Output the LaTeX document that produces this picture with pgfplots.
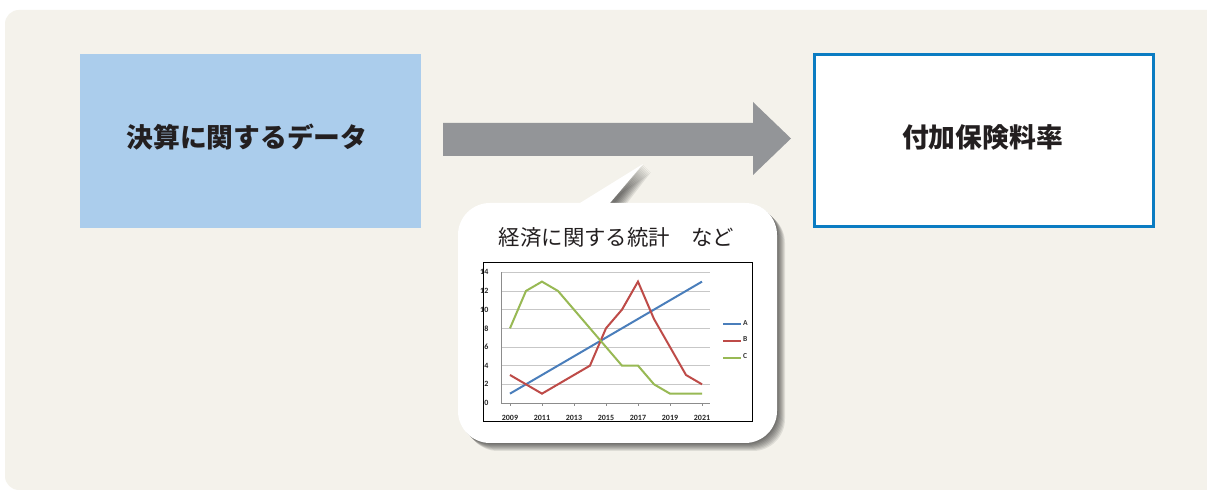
\documentclass[border=0pt]{standalone}
\usepackage{pgfplots}
\pgfplotsset{compat=1.18}
\usepackage{fontspec}
\setmainfont{Carlito}
\newfontfamily\cjk{Noto Sans CJK JP}

\definecolor{bgbeige}{HTML}{F4F2EB}
\definecolor{boxblue}{HTML}{ABCDEC}
\definecolor{lineblue}{HTML}{0A7CC2}
\definecolor{arrowgray}{HTML}{939598}
\definecolor{txt}{HTML}{231F20}
\definecolor{serA}{HTML}{4A7EBB}
\definecolor{serB}{HTML}{BE4B48}
\definecolor{serC}{HTML}{98B954}

\pgfplotstableread{
year A B C
2009 1 3 8
2010 2 2 12
2011 3 1 13
2012 4 2 12
2013 5 3 10
2014 6 4 8
2015 7 8 6
2016 8 10 4
2017 9 13 4
2018 10 9 2
2019 11 6 1
2020 12 3 1
2021 13 2 1
}\statdata

\begin{document}
\begin{tikzpicture}[x=0.5pt,y=0.5pt]
\clip (0,0) rectangle (1207,491);
\useasboundingbox (0,0) rectangle (1207,491);
\fill[white] (0,0) rectangle (1207,491);
% beige panel
\fill[bgbeige, rounded corners=7] (5,1) rectangle (1240,481);

% left box
\fill[boxblue] (80,263) rectangle (421,437);
\node[font=\cjk\fontsize{13.4}{16}\selectfont\bfseries, text=txt] at (247,353.5) {決算に関するデータ};

% right box
\draw[lineblue, line width=1.5pt, fill=white] (814.5,264.5) rectangle (1153.5,436.5);
\node[font=\cjk\fontsize{13.4}{16}\selectfont\bfseries, text=txt] at (982.5,353.5) {付加保険料率};

% arrow
\fill[arrowgray] (443,335) -- (443,368) -- (753,368) -- (753,389) -- (791,352.5) -- (753,316) -- (753,335) -- cycle;

% callout shadow (soft, to the lower right)
\foreach \o in {1,2,...,8} {
  \begin{scope}[shift={(\o,-\o)}]
    \fill[black, opacity=0.085, rounded corners=16] (458,48) rectangle (777,288);
    \fill[black, opacity=0.085] (580,284) -- (643,327) -- (610,284) -- cycle;
  \end{scope}
}
% callout
\fill[white, rounded corners=16] (458,48) rectangle (777,288);
\fill[white] (580,280) -- (580,288) -- (643,327) -- (610,288) -- (610,280) -- cycle;
\node[font=\cjk\fontsize{10.7}{13}\selectfont, text=txt] at (616.5,253.5) {経済に関する統計　など};

% chart frame
\draw[black, line width=0.5pt, fill=white] (483,69) rectangle (752,228);

\begin{axis}[
  at={(250.5pt,44pt)}, anchor=south west,
  scale only axis, width=104.5pt, height=65.35pt,
  xmin=2008.44, xmax=2021.5, ymin=0, ymax=14,
  xtick={2009,2011,...,2021}, minor x tick num=1,
  ytick={0,2,...,14},
  axis x line*=bottom, axis y line*=left,
  axis line style={color=black!45, line width=0.4pt},
  ymajorgrids, major grid style={color=black!22, line width=0.4pt},
  tick align=outside, major tick length=1.5pt, minor tick length=1.5pt,
  tick style={color=black!45, line width=0.3pt},
  ytick style={draw=none},
  /pgf/number format/1000 sep={},
  /pgf/number format/assume math mode=true,
  tick label style={font=\fontsize{4}{4.5}\selectfont\bfseries, text=black!85},
  xticklabel style={yshift=-1.3pt},
  yticklabel style={xshift=-1.3pt},
  legend style={at={(1.057,0.475)}, anchor=west, draw=none, fill=none,
    inner sep=0pt, font=\fontsize{3.8}{4}\selectfont\bfseries,
    nodes={inner sep=0.4pt, text=black!80}, row sep=3.6pt},
  legend image code/.code={\draw[#1, line width=1pt] (0pt,0pt) -- (9pt,0pt);},
  legend cell align=left,
]
\addplot[serA, line width=1pt] table[x=year, y=A] {\statdata};
\addplot[serB, line width=1pt] table[x=year, y=B] {\statdata};
\addplot[serC, line width=1pt] table[x=year, y=C] {\statdata};
\legend{A,B,C}
\end{axis}
\end{tikzpicture}
\end{document}
